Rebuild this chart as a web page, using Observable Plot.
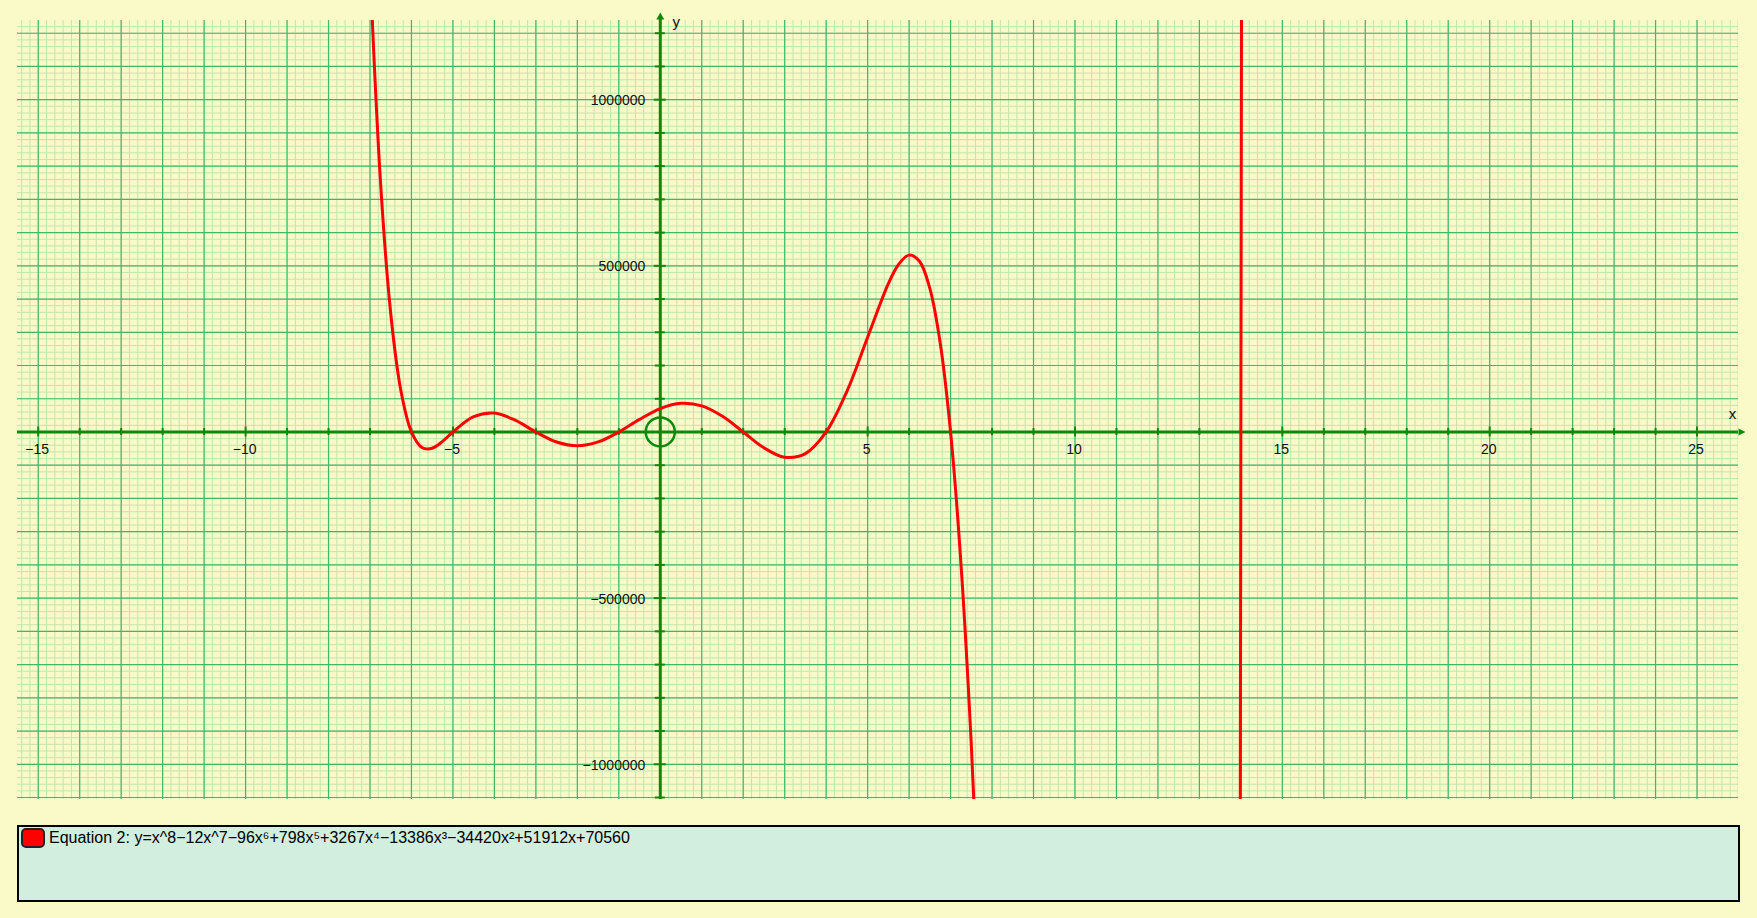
<!DOCTYPE html>
<html>
<head>
<meta charset="utf-8">
<script src="https://cdn.jsdelivr.net/npm/d3@7"></script>
<script src="https://cdn.jsdelivr.net/npm/@observablehq/plot@0.6"></script>
<style>
html, body { margin: 0; padding: 0; background: #faf9c8; }
body { width: 1757px; height: 918px; overflow: hidden; position: relative; font-family: "Liberation Sans", Arial, sans-serif; }
#chart svg { display: block; }
#legend { position: absolute; left: 17px; top: 825px; width: 1723px; height: 77px; box-sizing: border-box; border: 2px solid #000; background: #d2eedf; }
#legend .sw { position: absolute; left: 2px; top: 1px; width: 24px; height: 20px; box-sizing: border-box; border: 2px solid #222; border-radius: 5px; background: #ff0000; }
#legend .tx { position: absolute; left: 30px; top: 2px; font-size: 16px; line-height: 18px; color: #000; white-space: nowrap; }
</style>
</head>
<body>
<div id="chart"></div>
<div id="legend"><div class="sw"></div><div class="tx" id="legendText"></div></div>
<script>
// ---- data ----
const legendLabel = "Equation 2: y=x^8\u221212x^7\u221296x\u2076+798x\u2075+3267x\u2074\u221213386x\u00b3\u221234420x\u00b2+51912x+70560";

const curveX = [-7, -6.75, -6.5, -6.25, -6, -5.75, -5.5, -5.25, -5, -4.5, -4, -3.5, -3, -2.5, -2, -1.5, -1, -0.5, 0, 0.5, 1, 1.5, 2, 2.5, 3, 3.5, 4, 4.5, 5, 5.5, 5.75, 6, 6.25, 6.5, 6.75, 7, 7.25, 7.5, 7.75];
const curveY = [1397088, 759514, 356605, 120980, 0, -46603, -48845, -28354, 0, 46284, 57024, 35530, 0, -30088, -41472, -29958, 0, 37851, 70560, 86465, 78624, 47131, 0, -47630, -76032, -65101, 0, 122155, 285120, 446567, 504881, 532224, 513695, 432092, 268014, 0, -395202, -942248, -1666744];

// steep crossing near x = 14 (drawn as an almost vertical line)
const crossX = [13.98, 14, 14.02];
const crossY = [-1610000, 0, 1646000];

const xDomain = [-15.5, 26];
const yDomain = [-1106000, 1238300];

const xLabelValues = [-15, -10, -5, 5, 10, 15, 20, 25];
const yLabelValues = [-1000000, -500000, 500000, 1000000];
const xTickValues = d3.range(-15, 26);
const yTickValues = d3.range(-11, 13).map(i => i * 100000);

const minorGridX = d3.range(-77, 131).map(i => i / 5);
const majorGridX = d3.range(-15, 27);
const minorGridY = d3.range(-55, 62).map(i => i * 20000);
const majorGridY = d3.range(-11, 13).map(i => i * 100000);

// ---- styles ----
const minorColor = "#c3e6ae";
const majorColor = "#3fb86c";
const axisColor = "#0a8a0a";
const curveColor = "#ff0000";

const fmt = d => (d < 0 ? "\u2212" + Math.abs(d) : String(d));

const curveData = curveX.map((x, i) => ({x, y: curveY[i], seg: "main"}))
  .concat(crossX.map((x, i) => ({x, y: crossY[i], seg: "cross"})));

const arrowUp = {draw(ctx) { ctx.moveTo(0, -8); ctx.lineTo(4, -1); ctx.lineTo(-4, -1); ctx.closePath(); }};
const arrowRight = {draw(ctx) { ctx.moveTo(7, 0); ctx.lineTo(0, -3.5); ctx.lineTo(0, 3.5); ctx.closePath(); }};

const chart = Plot.plot({
  width: 1757,
  height: 810,
  marginTop: 20,
  marginBottom: 11,
  marginLeft: 17,
  marginRight: 19,
  x: {domain: xDomain, axis: null},
  y: {domain: yDomain, axis: null},
  style: {background: "transparent", fontFamily: "'Liberation Sans', Arial, sans-serif", fontSize: "14px", overflow: "visible"},
  marks: [
    Plot.ruleX(minorGridX, {x: d => d, stroke: minorColor, strokeWidth: 1, clip: true}),
    Plot.ruleY(minorGridY, {y: d => d, stroke: minorColor, strokeWidth: 1, clip: true}),
    Plot.ruleX(majorGridX, {x: d => d, stroke: majorColor, strokeWidth: 1.2, clip: true}),
    Plot.ruleY(majorGridY, {y: d => d, stroke: majorColor, strokeWidth: 1.2, clip: true}),
    // axes
    Plot.ruleY([0], {y: d => d, stroke: axisColor, strokeWidth: 3}),
    Plot.ruleX([0], {x: d => d, stroke: axisColor, strokeWidth: 3, insetTop: -1}),
    // x ticks
    Plot.ruleX(xTickValues.filter(v => !xLabelValues.includes(v)), {x: d => d, y1: () => 0, y2: () => 0, insetTop: -3.5, insetBottom: -3.5, stroke: axisColor, strokeWidth: 2}),
    Plot.ruleX(xLabelValues, {x: d => d, y1: () => 0, y2: () => 0, insetTop: -5, insetBottom: -5, stroke: axisColor, strokeWidth: 2}),
    // y ticks
    Plot.ruleY(yTickValues.filter(v => !yLabelValues.includes(v)), {y: d => d, x1: () => 0, x2: () => 0, insetLeft: -5, insetRight: -5, stroke: axisColor, strokeWidth: 2}),
    Plot.ruleY(yLabelValues, {y: d => d, x1: () => 0, x2: () => 0, insetLeft: -6, insetRight: -6, stroke: axisColor, strokeWidth: 2}),
    // arrows
    Plot.dot([0], {x: () => 0, y: () => yDomain[1], symbol: arrowUp, r: 4, fill: axisColor, stroke: "none"}),
    Plot.dot([0], {x: () => xDomain[1], y: () => 0, symbol: arrowRight, r: 4, fill: axisColor, stroke: "none"}),
    // origin circle
    Plot.dot([{x: 0, y: 0}], {x: "x", y: "y", r: 14.5, stroke: axisColor, strokeWidth: 2.5, fill: "none"}),
    // tick labels
    Plot.text(xLabelValues, {x: d => d, y: () => 0, text: fmt, dy: 18, dx: -1, fill: "#111", fontSize: 14}),
    Plot.text(yLabelValues, {x: () => 0, y: d => d, text: fmt, dx: -15, dy: 1, textAnchor: "end", fill: "#111", fontSize: 14}),
    // axis names
    Plot.text(["x"], {x: () => xDomain[1], y: () => 0, text: d => d, dx: -6, dy: -18, fill: "#111", fontSize: 15}),
    Plot.text(["y"], {x: () => 0, y: () => yDomain[1], text: d => d, dx: 16, dy: 2, fill: "#111", fontSize: 15}),
    // curve
    Plot.line(curveData, {x: "x", y: "y", z: "seg", stroke: curveColor, strokeWidth: 3, curve: "catmull-rom", clip: true})
  ]
});
document.getElementById("chart").appendChild(chart);
document.getElementById("legendText").textContent = legendLabel;
</script>
</body>
</html>
